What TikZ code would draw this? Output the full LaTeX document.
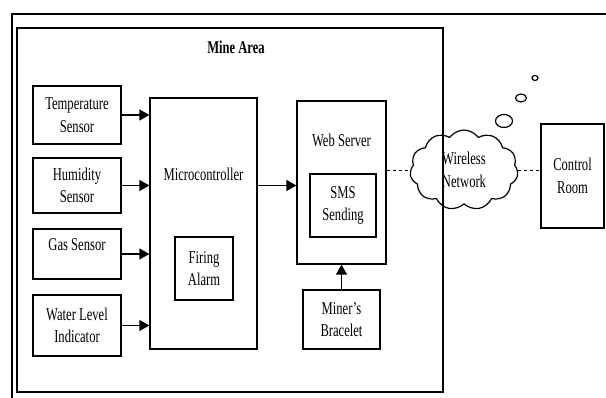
\documentclass[tikz,border=0pt]{standalone}
\usepackage{fontspec}
\setmainfont{Liberation Serif}[FakeStretch=0.7]
\usetikzlibrary{shapes.symbols,shapes.geometric,arrows.meta,calc}
\begin{document}
\begin{tikzpicture}[x=1pt,y=-1pt,
  every node/.style={font=\fontsize{18}{22.5}\selectfont},
  blk/.style={draw,line width=1.3pt,inner sep=0pt,align=center},
  txt/.style={inner sep=0pt,align=center},
  arr/.style={line width=1.3pt,-{Triangle[length=10pt,width=11pt]}},
  bub/.style={draw,line width=1.2pt,ellipse,inner sep=0pt}]
\useasboundingbox (0,0) rectangle (606,398);
% outer frame (cropped)
\draw[line width=1.4pt] (606,14) -- (12,14) -- (12,398);
% mine area
\node[blk,line width=1.4pt,minimum width=426,minimum height=364] (mine) at (230,210) {};
\node[txt,font=\fontsize{18}{22.5}\selectfont\bfseries] (minet) at (236,47) {Mine Area};
% sensors
\node[blk,minimum width=88,minimum height=58] (temp) at (77,115) {Temperature\\Sensor};
\node[blk,minimum width=88,minimum height=55] (hum) at (77,185.5) {Humidity\\Sensor};
\node[blk,minimum width=88,minimum height=50] (gas) at (77,254) {};
\node[txt] (gast) at (77,245) {Gas Sensor};
\node[blk,minimum width=88,minimum height=61] (water) at (77,325.5) {Water Level\\Indicator};
% microcontroller
\node[blk,minimum width=107,minimum height=251] (micro) at (203.5,223.5) {};
\node[txt] (microt) at (203.5,174) {Microcontroller};
\node[blk,minimum width=58,minimum height=63] (fire) at (204,268.5) {Firing\\Alarm};
% web server
\node[blk,minimum width=89,minimum height=163] (web) at (341.5,182.5) {};
\node[txt] (webt) at (341.5,140) {Web Server};
\node[blk,minimum width=66,minimum height=63] (sms) at (343,205.5) {SMS\\Sending};
\node[blk,minimum width=77,minimum height=59] (brace) at (341.5,319.5) {Miner’s\\Bracelet};
% cloud and control room
\node[draw,line width=1.2pt,cloud,cloud puffs=11,cloud puff arc=110,
      minimum width=108,minimum height=80,inner sep=3pt,align=center] (cloud) at (464,170) {Wireless\\Network};
\node[blk,minimum width=63,minimum height=104] (ctrl) at (572.5,176) {Control\\Room};
\node[bub,minimum width=17,minimum height=13] (b1) at (504,121) {};
\node[bub,minimum width=11,minimum height=8] (b2) at (521,98) {};
\node[bub,minimum width=6,minimum height=5] (b3) at (535,78) {};
% connectors
\draw[arr] (temp.east) -- (temp.east -| micro.west);
\draw[arr] (hum.east) -- (hum.east -| micro.west);
\draw[arr] (gas.east) -- (gas.east -| micro.west);
\draw[arr] (water.east) -- (water.east -| micro.west);
\draw[arr] (micro.east |- hum.east) -- (web.west |- hum.east);
\draw[arr] (brace.north) -- (web.south);
\draw[dashed,line width=0.8pt] (web.east |- cloud.west) -- (cloud.west);
\draw[dashed,line width=0.8pt] (cloud.east) -- (cloud.east -| ctrl.west);
\end{tikzpicture}
\end{document}
